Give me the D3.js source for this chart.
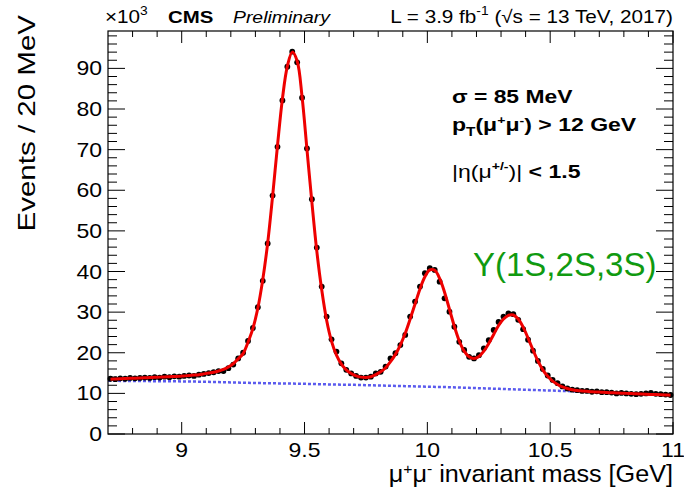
<html lang="en">
<head>
  <meta charset="UTF-8"/>
  <title>Upsilon mass peaks</title>
  <script src="https://d3js.org/d3.v7.min.js"></script>
  <style>
    body { margin: 0; background: #fff; }
    svg text { font-family: 'Liberation Sans', Arial, Helvetica, sans-serif; }
  </style>
</head>
<body>
<svg width="684" height="492"></svg>
<script>
  // bin centres, 20 MeV bins from 8.70 to 11.00 GeV
  const binCenters = d3.range(115).map(i => +(8.71 + i * 0.02).toFixed(2));

  // events per bin (x10^3)
  const dataValues = [
    13.6, 13.5, 13.7, 13.6, 13.8, 13.7, 13.8, 13.9, 13.8, 14.0,
    13.9, 14.1, 14.0, 14.2, 14.1, 14.3, 14.4, 14.3, 14.6, 14.8,
    15.0, 15.2, 15.5, 15.5, 16.2, 17.1, 18.6, 20.0, 22.9, 26.1,
    31.2, 37.7, 46.9, 58.7, 70.7, 82.1, 90.4, 94.1, 91.5, 82.8,
    70.3, 57.8, 45.9, 36.3, 28.9, 23.3, 20.3, 17.4, 15.8, 14.9,
    14.3, 13.9, 13.9, 14.1, 14.9, 15.3, 16.6, 18.6, 19.9, 21.9,
    24.4, 28.9, 32.6, 36.3, 39.6, 40.8, 40.4, 37.5, 33.4, 30.1,
    26.4, 22.7, 20.7, 19.0, 18.6, 19.4, 21.1, 23.1, 25.6, 27.6,
    28.9, 29.7, 29.5, 28.1, 25.8, 23.2, 20.5, 18.0, 16.0, 14.4,
    13.3, 12.5, 11.7, 11.2, 10.9, 10.8, 10.6, 10.6, 10.4, 10.5,
    10.3, 10.3, 10.2, 10.0, 10.1, 10.0, 9.9, 9.8, 9.9, 10.0,
    10.1, 9.9, 9.8, 9.7, 9.6
  ];

  // total fit (red) at the bin centres
  const fitValues = [
    13.5, 13.55, 13.6, 13.65, 13.7, 13.75, 13.8, 13.85, 13.9, 13.95,
    14.0, 14.05, 14.1, 14.15, 14.2, 14.3, 14.4, 14.5, 14.6, 14.8,
    15.0, 15.2, 15.5, 15.9, 16.5, 17.3, 18.5, 19.8, 22.6, 26.0,
    31.0, 38.0, 47.0, 58.5, 71.0, 82.5, 90.5, 94.0, 91.8, 83.0,
    70.0, 57.0, 45.0, 35.5, 28.0, 22.8, 19.4, 17.2, 15.8, 14.9,
    14.3, 14.0, 13.9, 14.1, 14.6, 15.3, 16.3, 17.8, 19.6, 21.9,
    24.8, 28.3, 32.0, 35.7, 38.7, 40.4, 40.3, 38.3, 34.9, 30.7,
    26.5, 22.9, 20.4, 19.0, 18.6, 19.1, 20.4, 22.3, 24.5, 26.7,
    28.3, 29.2, 29.3, 28.3, 26.3, 23.6, 20.7, 18.0, 15.8, 14.2,
    13.0, 12.2, 11.6, 11.2, 10.9, 10.7, 10.6, 10.5, 10.4, 10.35,
    10.3, 10.2, 10.15, 10.1, 10.05, 10.0, 9.95, 9.9, 9.85, 9.8,
    9.75, 9.7, 9.65, 9.6, 9.55
  ];

  // background component (blue dotted)
  const bkgMass = [8.7, 8.8, 8.9, 9.0, 9.1, 9.2, 9.3, 9.4, 9.5, 9.6, 9.7, 9.8,
                   9.9, 10.0, 10.1, 10.2, 10.3, 10.4, 10.5, 10.6, 10.7, 10.8, 10.9, 11.0];
  const bkgValues = [13.1, 13.05, 13.0, 12.95, 12.85, 12.7, 12.55, 12.45, 12.35, 12.2, 12.1, 11.95,
                     11.8, 11.65, 11.5, 11.3, 11.1, 10.9, 10.7, 10.5, 10.3, 10.05, 9.8, 9.55];

  const xTicks = [9, 9.5, 10, 10.5, 11];
  const yTicks = [0, 10, 20, 30, 40, 50, 60, 70, 80, 90];

  const svg = d3.select('svg');
  const pLeft = 108, pRight = 673, pTop = 31, pBottom = 434;

  const x = d3.scaleLinear().domain([8.7, 11]).range([pLeft, pRight]);
  const y = d3.scaleLinear().domain([0, 99.2]).range([pBottom, pTop]);

  // text that is a bit wider than the font gives, as in the ROOT output
  function label(px, py, sx, size, anchor) {
    return svg.append('g')
      .attr('transform', `translate(${px},${py}) scale(${sx},1)`)
      .append('text')
      .attr('font-size', size)
      .attr('text-anchor', anchor || 'start');
  }

  // ticks on all four sides, ROOT style (ticks point inward)
  const xMinor = d3.range(8.8, 11.0, 0.1).map(v => +v.toFixed(1)).filter(v => !xTicks.includes(v));
  const yMinor = d3.range(2, 99, 2).filter(v => v % 10 !== 0);

  const axes = svg.append('g').attr('stroke', '#000').attr('stroke-width', 1);
  function tickLines(vals, len, isX) {
    vals.forEach(v => {
      if (isX) {
        axes.append('line').attr('x1', x(v)).attr('x2', x(v)).attr('y1', pBottom).attr('y2', pBottom - len);
        axes.append('line').attr('x1', x(v)).attr('x2', x(v)).attr('y1', pTop).attr('y2', pTop + len);
      } else {
        axes.append('line').attr('y1', y(v)).attr('y2', y(v)).attr('x1', pLeft).attr('x2', pLeft + len);
        axes.append('line').attr('y1', y(v)).attr('y2', y(v)).attr('x1', pRight).attr('x2', pRight - len);
      }
    });
  }
  tickLines(xTicks, 12, true);
  tickLines(xMinor, 6, true);
  tickLines(yTicks, 17, false);
  tickLines(yMinor, 9, false);

  // background (dotted blue)
  svg.append('path')
    .datum(bkgMass.map((m, i) => [m, bkgValues[i]]))
    .attr('fill', 'none')
    .attr('stroke', '#5a5aee')
    .attr('stroke-width', 2.5)
    .attr('stroke-dasharray', '3,2')
    .attr('d', d3.line().x(d => x(d[0])).y(d => y(d[1])).curve(d3.curveMonotoneX));

  // data points
  const pts = svg.append('g');
  binCenters.forEach((m, i) => {
    const v = dataValues[i];
    const err = Math.sqrt(v * 1000) / 1000;
    pts.append('line')
      .attr('x1', x(m)).attr('x2', x(m))
      .attr('y1', y(v + err) - 1).attr('y2', y(v - err) + 1)
      .attr('stroke', '#000').attr('stroke-width', 1);
    pts.append('circle')
      .attr('cx', x(m)).attr('cy', y(v)).attr('r', 2.9)
      .attr('fill', '#000');
  });

  // total fit (red)
  svg.append('path')
    .datum(binCenters.map((m, i) => [m, fitValues[i]]))
    .attr('fill', 'none')
    .attr('stroke', '#ee0000')
    .attr('stroke-width', 3)
    .attr('d', d3.line().x(d => x(d[0])).y(d => y(d[1])).curve(d3.curveCatmullRom));

  // frame
  svg.append('rect')
    .attr('x', pLeft).attr('y', pTop)
    .attr('width', pRight - pLeft).attr('height', pBottom - pTop)
    .attr('fill', 'none').attr('stroke', '#000').attr('stroke-width', 1.2);

  // tick labels
  xTicks.forEach(t => label(x(t), 457, 1.15, 20, 'middle').text(t));
  yTicks.forEach(t => label(102, y(t) + 7, 1.15, 20, 'end').text(t));

  // axis titles
  const xt = label(pRight, 482, 1.05, 24, 'end');
  xt.append('tspan').text('μ');
  xt.append('tspan').attr('font-size', 15).attr('dy', -8).text('+');
  xt.append('tspan').attr('dy', 8).text('μ');
  xt.append('tspan').attr('font-size', 15).attr('dy', -8).text('-');
  xt.append('tspan').attr('dy', 8).text(' invariant mass [GeV]');

  svg.append('text')
    .attr('transform', 'translate(35,15) rotate(-90) scale(1.23,1)')
    .attr('text-anchor', 'end')
    .attr('font-size', 24)
    .text('Events / 20 MeV');

  // header
  const exp = label(105, 23, 1.15, 18);
  exp.append('tspan').text('×10');
  exp.append('tspan').attr('font-size', 12).attr('dy', -8).text('3');

  label(168, 23, 1.2, 17).attr('font-weight', 'bold').text('CMS');
  label(233, 23, 1.14, 17).attr('font-style', 'italic').text('Preliminary');

  const lumi = label(pRight, 23, 1.15, 18, 'end');
  lumi.append('tspan').text('L = 3.9 fb');
  lumi.append('tspan').attr('font-size', 12).attr('dy', -8).text('-1');
  lumi.append('tspan').attr('dy', 8).text(' (√s = 13 TeV, 2017)');

  // annotations
  label(452, 103, 1.27, 18).attr('font-weight', 'bold').text('σ = 85 MeV');

  const pt = label(452, 131, 1.28, 18).attr('font-weight', 'bold');
  pt.append('tspan').text('p');
  pt.append('tspan').attr('font-size', 12).attr('dy', 5).text('T');
  pt.append('tspan').attr('dy', -5).text('(μ');
  pt.append('tspan').attr('font-size', 11).attr('dy', -7).text('+');
  pt.append('tspan').attr('dy', 7).text('μ');
  pt.append('tspan').attr('font-size', 11).attr('dy', -7).text('-');
  pt.append('tspan').attr('dy', 7).text(') > 12 GeV');

  const eta = label(452, 178, 1.28, 18).attr('font-weight', 'bold');
  eta.append('tspan').attr('font-weight', 'normal').text('|η(μ');
  eta.append('tspan').attr('font-size', 11).attr('dy', -8).text('+/-');
  eta.append('tspan').attr('dy', 8).attr('font-weight', 'normal').text(')|');
  eta.append('tspan').text(' < 1.5');

  label(473, 276, 1, 33).attr('fill', '#109a10').text('Υ(1S,2S,3S)');
</script>
</body>
</html>
